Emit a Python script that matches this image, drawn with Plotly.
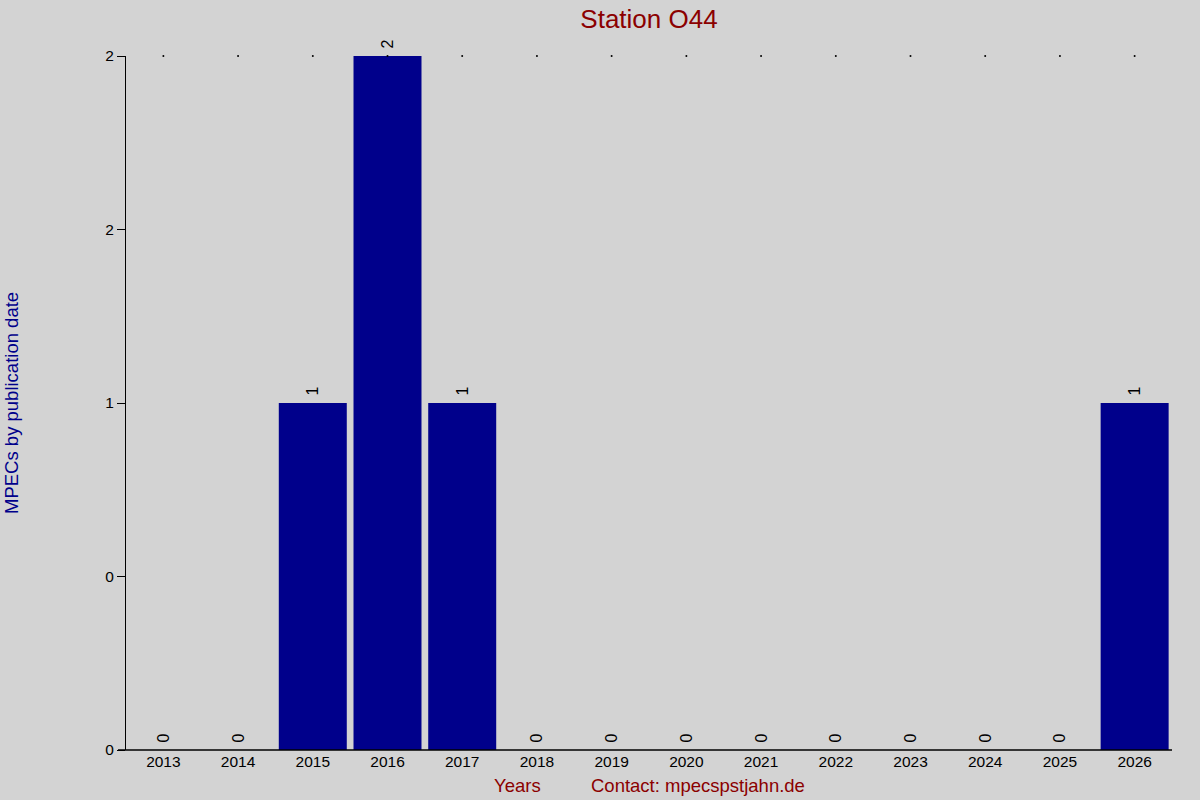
import plotly.graph_objects as go

# data
years = ["2013", "2014", "2015", "2016", "2017", "2018", "2019",
         "2020", "2021", "2022", "2023", "2024", "2025", "2026"]
mpecs = [0, 0, 1, 2, 1, 0, 0, 0, 0, 0, 0, 0, 0, 1]
y_tickvals = [0, 0.5, 1, 1.5, 2]
y_ticktext = ["0", "0", "1", "2", "2"]

y_max = max(mpecs)
font_family = "Liberation Sans, Arial, sans-serif"

bars = go.Bar(
    x=years,
    y=mpecs,
    marker=dict(color="#00008B", line=dict(width=0)),
    # leading non-breaking space leaves a small gap above each bar
    text=["\u00a0" + str(v) for v in mpecs],
    textposition="outside",
    textangle=-90,
    textfont=dict(size=16, color="black", family=font_family),
    cliponaxis=False,
    showlegend=False,
)

# tiny dots along the top edge, one per year
top_dots = go.Scatter(
    x=years,
    y=[y_max] * len(years),
    mode="markers",
    marker=dict(size=2, color="black"),
    cliponaxis=False,
    showlegend=False,
    hoverinfo="skip",
)

fig = go.Figure(data=[bars, top_dots])
fig.update_layout(
    width=1200,
    height=800,
    paper_bgcolor="#D3D3D3",
    plot_bgcolor="#D3D3D3",
    margin=dict(l=126, r=28, t=56, b=50),
    bargap=0.09,
    font=dict(family=font_family, size=15.5, color="black"),
    title=dict(
        text="Station O44",
        x=(126 + 1172) / 2 / 1200,
        xanchor="center",
        y=0.977,
        yanchor="middle",
        font=dict(size=26, color="#8B0000", family=font_family),
    ),
    xaxis=dict(
        range=[-0.5, len(years) - 0.5],
        showgrid=False,
        zeroline=False,
        showline=False,
        ticks="",
        tickfont=dict(size=15.5),
    ),
    yaxis=dict(
        range=[0, y_max],
        tickvals=y_tickvals,
        ticktext=y_ticktext,
        showgrid=False,
        zeroline=False,
        showline=True,
        linecolor="black",
        linewidth=1,
        ticks="outside",
        ticklen=8,
        tickcolor="black",
        tickfont=dict(size=15.5),
    ),
    shapes=[
        dict(type="line", xref="paper", yref="paper",
             x0=-8 / 1046, x1=1, y0=0, y1=0,
             line=dict(color="black", width=1.5)),
    ],
    annotations=[
        dict(text="MPECs by publication date", xref="paper", yref="paper",
             x=(11 - 126) / 1046, y=0.5, textangle=-90, showarrow=False,
             xanchor="center", yanchor="middle",
             font=dict(size=18.5, color="#00008B")),
        dict(text="Years", xref="paper", yref="paper",
             x=(517 - 126) / 1046, y=-(785 - 750) / 694, showarrow=False,
             xanchor="center", yanchor="middle",
             font=dict(size=18.5, color="#8B0000")),
        dict(text="Contact: mpecspstjahn.de", xref="paper", yref="paper",
             x=(698 - 126) / 1046, y=-(785 - 750) / 694, showarrow=False,
             xanchor="center", yanchor="middle",
             font=dict(size=18.5, color="#8B0000")),
    ],
)

# drop the default page margin so the 1200x800 figure fills the window
fig.write_html("out.html", config={"displayModeBar": False},
               post_script="document.body.style.margin='0';")
